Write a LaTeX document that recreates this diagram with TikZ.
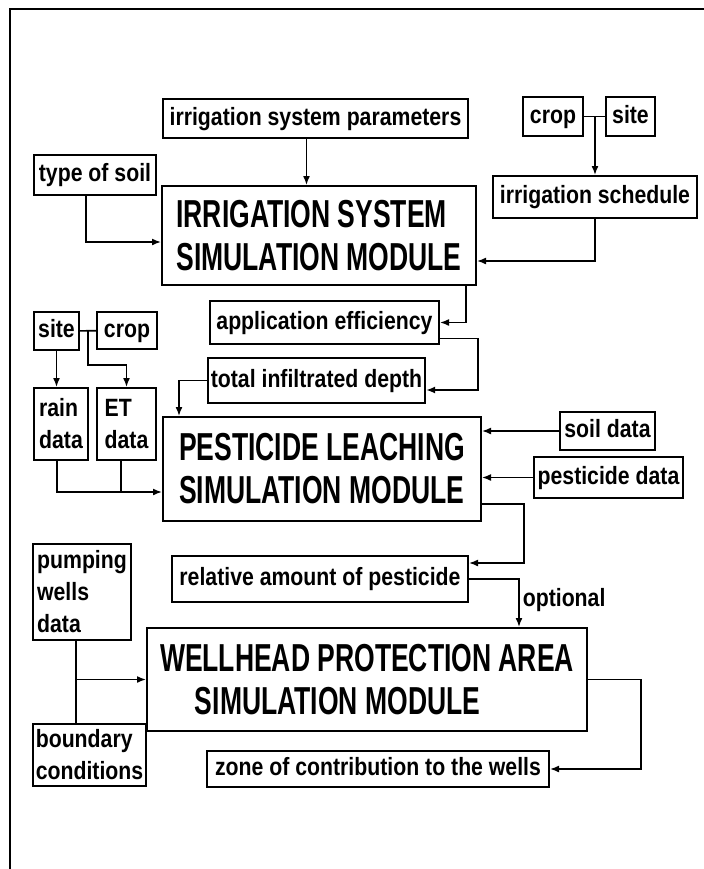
\documentclass[tikz,border=0pt]{standalone}
\usepackage{fontspec}
\newfontfamily\lblfont{Liberation Sans}[FakeStretch=0.85]
\newfontfamily\modfont{Liberation Sans}[FakeStretch=0.68]
\usetikzlibrary{arrows.meta,calc}

\begin{document}
\begin{tikzpicture}[x=0.5pt,y=-0.5pt,
    lbl/.style={font=\lblfont\bfseries\fontsize{12.5}{16}\selectfont, align=left},
    box/.style={lbl, draw=black, line width=1pt, inner sep=1.5pt},
    sbox/.style={box, text height=9.2pt, text depth=2.7pt},
    module/.style={draw=black, line width=1pt, inner sep=2pt, font=\modfont\bfseries\fontsize{19.5}{21.5}\selectfont, align=left},
    link/.style={line width=0.8pt},
    arr/.style={link, -{Latex[length=4.5pt,width=3.5pt]}},
    ]
    \useasboundingbox (0,0) rectangle (704,869);
    \draw[line width=1.2pt] (10,869) -- (10,9) -- (704,9);
    % irrigation part
    \node[sbox, minimum width=152.5pt, minimum height=19.5pt] (param) at (315.5,118.5) {irrigation system parameters};
    \node[sbox, minimum width=30pt, minimum height=19.5pt] (crop1) at (553,116.5) {crop};
    \node[sbox, minimum width=24.5pt, minimum height=19.5pt] (site1) at (630.5,116.5) {site};
    \node[sbox, minimum width=102pt, minimum height=21pt] (sched) at (595,197) {irrigation schedule};
    \node[sbox, minimum width=61pt, minimum height=20pt] (soil) at (95,175) {type of soil};
    \node[module, minimum width=157pt, minimum height=49.5pt] (irr) at (319,235.5) {IRRIGATION SYSTEM\\SIMULATION MODULE};
    \node[sbox, minimum width=114.5pt, minimum height=21.5pt] (appeff) at (324.5,322.5) {application efficiency};
    \node[sbox, minimum width=106.5pt, minimum height=22.5pt] (tid) at (316.5,380.5) {total infiltrated depth};
    % pesticide part
    \node[sbox, minimum width=22.5pt, minimum height=19pt] (site2) at (56.5,331) {site};
    \node[sbox, minimum width=30pt, minimum height=18.5pt] (crop2) at (127,330.5) {crop};
    \node[box, minimum width=27pt, minimum height=36pt] (rain) at (61,424) {rain\\data};
    \node[box, minimum width=29.5pt, minimum height=36pt] (et) at (126.5,424) {ET\\data};
    \node[module, minimum width=159pt, minimum height=52pt] (pest) at (322,469) {PESTICIDE LEACHING\\SIMULATION MODULE};
    \node[sbox, minimum width=47.5pt, minimum height=19pt] (soildat) at (607.5,431) {soil data};
    \node[sbox, minimum width=74.5pt, minimum height=20.5pt] (pestdat) at (608.5,477.5) {pesticide data};
    \node[sbox, minimum width=148pt, minimum height=23pt] (rel) at (320,579) {relative amount of pesticide};
    % wellhead part
    \node[box, minimum width=49pt, minimum height=48pt] (pump) at (82,592) {pumping\\wells\\data};
    \node[box, minimum width=56.5pt, minimum height=31pt] (bound) at (89.5,755) {boundary\\conditions};
    \node[module, minimum width=220pt, minimum height=51.5pt] (well) at (367,679.5) {WELLHEAD PROTECTION AREA\\\hspace*{17.5pt}SIMULATION MODULE};
    \node[sbox, minimum width=171pt, minimum height=18pt] (zone) at (378,769) {zone of contribution to the wells};

    % connectors
    \draw[arr] ([xshift=-4.5pt]param.south) -- ([xshift=-4.5pt]param.south |- irr.north);
    \draw[link] (crop1) -- (site1);
    \draw[arr] (sched.north |- crop1.east) -- (sched.north);
    \draw[arr] ([xshift=-4.5pt]soil.south) |- ([yshift=-3.25pt]irr.west);
    \draw[arr] (sched.south) |- ([yshift=-12.75pt]irr.east);
    \draw[arr] ([xshift=-5.5pt]irr.south east) |- (appeff.east);
    \draw[arr] ([yshift=-8pt]appeff.east) -- ++(38,0) |- ([yshift=-4.75pt]tid.east);
    \draw[arr] (tid.west) -| ([xshift=8.5pt]pest.north west);
    \draw[link] (site2) -- (crop2);
    \coordinate (sc) at ($(site2.east)!.5!(crop2.west)$);
    \draw[arr] (sc) -- ++(0,34) -| (et.north);
    \draw[arr] (site2.south) -- (site2.south |- rain.north);
    \coordinate (pin) at ([yshift=-11.5pt]pest.west);
    \draw[arr] ([xshift=-2pt]rain.south) |- (pin);
    \draw[link] ([xshift=-2.75pt]et.south) -- ([xshift=-2.75pt]et.south |- pin);
    \draw[arr] (soildat.west) -- (soildat.west -| pest.east);
    \draw[arr] (pestdat.west) -- (pestdat.west -| pest.east);
    \draw[arr] ([yshift=-17.5pt]pest.east) -- ++(42,0) |- ([yshift=8pt]rel.east);
    \draw[arr] (rel.east) -| ([xshift=76pt]well.north) node[lbl, pos=0.72, right, inner sep=1.5pt] {optional};
    \coordinate (pw) at ([xshift=-3pt]pump.south);
    \draw[link] (pw) -- (pw |- bound.north);
    \draw[arr] (pw |- well.west) -- (well.west);
    \draw[arr] (well.east) -- ++(53,0) |- (zone.east);
\end{tikzpicture}
\end{document}
